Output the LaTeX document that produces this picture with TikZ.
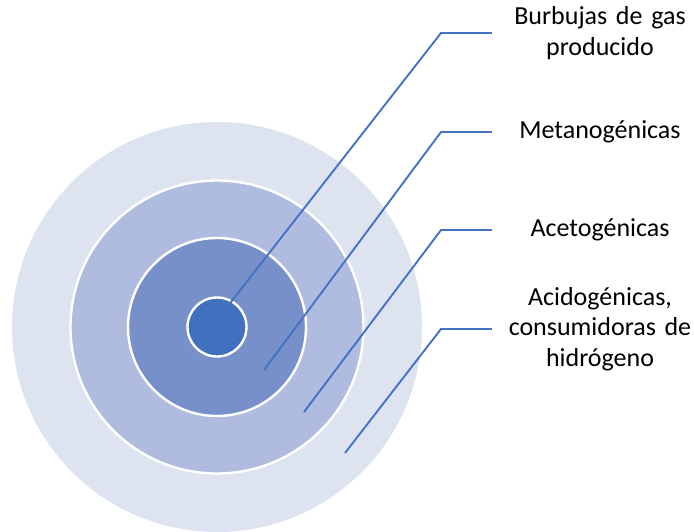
\documentclass[tikz,border=0pt]{standalone}
\usepackage{fontspec}
\setmainfont{Carlito}
\usepackage{xcolor}
\definecolor{ringa}{HTML}{DEE3F0}
\definecolor{ringb}{HTML}{AFBCDF}
\definecolor{ringc}{HTML}{7890C9}
\definecolor{ringd}{HTML}{4170BF}
\definecolor{leader}{HTML}{4472C4}
\begin{document}
\begin{tikzpicture}[
    x=1pt, y=-1pt,
    ring/.style={circle, draw=white, line width=2.4pt, inner sep=0pt},
    label/.style={text width=216pt, inner sep=0pt, align=center, font=\fontsize{26}{30.5}\selectfont},
    leadline/.style={draw=leader, line width=1.9pt}
]
\useasboundingbox (0,0) rectangle (694,531);
\clip (0,0) rectangle (694,531);
\node[circle, fill=ringa, inner sep=0pt, minimum size=410pt] (outer) at (217,327) {};
\node[ring, fill=ringb, minimum size=293pt] (middle) at (217,327) {};
\node[ring, fill=ringc, minimum size=178pt] (inner) at (217,327) {};
\node[ring, fill=ringd, minimum size=59pt] (core) at (217,327) {};
\node[label] (burbujas) at (600,33)  {Burbujas de gas\\producido};
\node[label] (metano)   at (600,132) {Metanogénicas};
\node[label] (aceto)    at (600,230) {Acetogénicas};
\node[label] (acido)    at (600,329) {Acidogénicas,\\consumidoras de\\hidrógeno};
\coordinate (t1) at (213,325);
\coordinate (t2) at (264,370);
\coordinate (t3) at (304,412);
\coordinate (t4) at (345,453);
\coordinate (b1) at (441,33);
\coordinate (b2) at (441,132);
\coordinate (b3) at (441,230);
\coordinate (b4) at (441,329);
\draw[leadline] (t1) -- (b1) -- (burbujas.west);
\draw[leadline] (t2) -- (b2) -- (metano.west);
\draw[leadline] (t3) -- (b3) -- (aceto.west);
\draw[leadline] (t4) -- (b4) -- (acido.west);
\end{tikzpicture}
\end{document}
